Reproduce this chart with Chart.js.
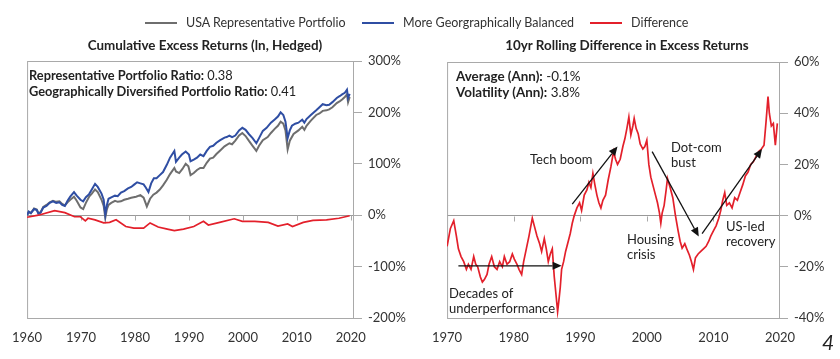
<!DOCTYPE html>
<html>
<head>
<meta charset="utf-8">
<script src="https://cdn.jsdelivr.net/npm/chart.js@4.4.0/dist/chart.umd.min.js"></script>
<style>
    body { margin: 0; background: #fff; font-family: Lato, "Open Sans", sans-serif; color: #222; }
    #wrap { position: relative; width: 840px; height: 359px; overflow: hidden; }
    canvas { position: absolute; top: 0; }
    .lg { position: absolute; top: 15px; font-size: 12.5px; line-height: 16px; white-space: nowrap; color: #333; }
    .lg i { display: inline-block; width: 32px; height: 2px; vertical-align: middle; margin-right: 9px; position: relative; top: -1px; }
    .title { position: absolute; top: 37px; width: 420px; text-align: center; font-weight: bold; font-size: 13.4px; line-height: 16px; }
    .note { position: absolute; font-size: 12.8px; line-height: 16px; white-space: nowrap; }
    .note b { font-weight: bold; }
    .ann { position: absolute; font-size: 13px; line-height: 15px; color: #222; white-space: nowrap; }
    .page { position: absolute; left: 822px; top: 329px; font-size: 21px; font-style: italic; color: #222; }
</style>
</head>
<body>
<div id="wrap">
    <canvas id="cumChart" width="420" height="359" style="left:0;width:420px;height:359px"></canvas>
    <canvas id="rollChart" width="420" height="359" style="left:420px;width:420px;height:359px"></canvas>

    <div class="lg" style="left:145px"><i style="background:#6e6e6e"></i>USA Representative Portfolio</div>
    <div class="lg" style="left:362px"><i style="background:#2f4ea3"></i>More Georgraphically Balanced</div>
    <div class="lg" style="left:590px"><i style="background:#e3202b"></i>Difference</div>

    <div class="title" style="left:-5px">Cumulative Excess Returns (ln, Hedged)</div>
    <div class="title" style="left:417px">10yr Rolling Difference in Excess Returns</div>

    <div class="note" style="left:29px;top:67px"><b>Representative Portfolio Ratio:</b> 0.38<br><b>Geographically Diversified Portfolio Ratio:</b> 0.41</div>
    <div class="note" style="left:456px;top:68px;font-size:13.4px"><b>Average (Ann):</b> -0.1%<br><b>Volatility (Ann):</b> 3.8%</div>

    <div class="ann" style="left:530px;top:152px">Tech boom</div>
    <div class="ann" style="left:671px;top:140px">Dot-com<br>bust</div>
    <div class="ann" style="left:627px;top:232px">Housing<br>crisis</div>
    <div class="ann" style="left:726px;top:219px">US-led<br>recovery</div>
    <div class="ann" style="left:449px;top:286px">Decades of<br>underperformance</div>
    <div class="page">4</div>
</div>

<script>
// left panel: cumulative excess returns, [year, %]
const USA_PORTFOLIO = [
    [1960.0, 0], [1960.3, 6], [1960.7, 4], [1961.3, 13], [1961.8, 11], [1962.1, 4], [1962.5, 6],
    [1963.0, 16], [1963.6, 20], [1964.2, 25], [1964.8, 28], [1965.4, 26], [1966.0, 27], [1966.5, 22],
    [1967.0, 19], [1967.5, 25], [1968.0, 30], [1968.7, 36], [1969.2, 28], [1969.9, 15], [1970.4, 12],
    [1970.9, 24], [1971.5, 36], [1972.0, 42], [1972.6, 50], [1973.1, 45], [1973.8, 30], [1974.2, 18],
    [1974.5, -5], [1974.8, 12], [1975.1, 20], [1975.6, 24], [1976.3, 28], [1976.8, 26], [1977.4, 27],
    [1978.0, 30], [1978.7, 32], [1979.3, 34], [1980.2, 36], [1981.0, 39], [1981.6, 34], [1982.2, 17],
    [1982.8, 32], [1983.4, 40], [1984.0, 44], [1984.6, 50], [1985.2, 58], [1985.9, 69], [1986.5, 80],
    [1987.3, 92], [1987.6, 85], [1988.2, 82], [1988.8, 90], [1989.4, 100], [1989.9, 95], [1990.3, 78],
    [1990.9, 82], [1991.5, 88], [1992.1, 92], [1992.7, 92], [1993.3, 102], [1993.9, 110], [1994.5, 112],
    [1995.1, 119], [1995.8, 126], [1996.6, 134], [1997.5, 140], [1998.0, 138], [1998.6, 145], [1999.3, 155],
    [1999.9, 160], [2000.5, 154], [2001.1, 145], [2001.8, 135], [2002.5, 125], [2003.0, 135], [2003.7, 146],
    [2004.6, 152], [2005.2, 160], [2005.9, 168], [2006.5, 174], [2007.0, 182], [2007.5, 178], [2007.9, 165],
    [2008.3, 128], [2008.7, 145], [2009.4, 158], [2010.3, 165], [2011.0, 172], [2011.4, 166], [2011.8, 174],
    [2012.6, 184], [2013.6, 195], [2014.2, 198], [2014.8, 203], [2015.5, 204], [2016.0, 206], [2016.6, 210],
    [2017.4, 218], [2018.0, 222], [2018.4, 225], [2018.9, 230], [2019.3, 235], [2019.5, 220], [2019.8, 230]
];
const BALANCED_PORTFOLIO = [
    [1960.0, 0], [1960.3, 7], [1960.7, 4], [1961.3, 12], [1961.8, 10], [1962.1, 3], [1962.5, 5],
    [1963.0, 15], [1963.6, 18], [1964.2, 24], [1964.8, 27], [1965.4, 24], [1966.0, 25], [1966.5, 20],
    [1967.0, 18], [1967.5, 28], [1968.0, 36], [1968.7, 45], [1969.2, 38], [1969.9, 30], [1970.4, 27],
    [1970.9, 35], [1971.5, 41], [1972.0, 50], [1972.6, 61], [1973.1, 55], [1973.8, 42], [1974.2, 30],
    [1974.5, 1], [1974.8, 20], [1975.1, 32], [1975.7, 35], [1976.3, 38], [1976.8, 37], [1977.4, 44],
    [1978.0, 47], [1978.7, 52], [1979.3, 55], [1979.9, 60], [1980.4, 64], [1981.0, 62], [1981.6, 60],
    [1982.0, 54], [1982.5, 45], [1983.0, 62], [1983.5, 72], [1984.0, 72], [1984.6, 78], [1985.2, 84],
    [1985.9, 98], [1986.5, 112], [1987.3, 125], [1987.6, 104], [1988.2, 112], [1988.7, 118], [1989.4, 124],
    [1990.0, 118], [1990.3, 105], [1990.9, 108], [1991.5, 112], [1992.1, 118], [1992.7, 115], [1993.3, 125],
    [1993.9, 133], [1994.5, 135], [1995.1, 141], [1995.8, 146], [1996.6, 151], [1997.0, 152], [1997.5, 155],
    [1998.0, 152], [1998.6, 155], [1999.3, 165], [1999.9, 170], [2000.5, 166], [2001.1, 158], [2001.8, 150],
    [2002.5, 140], [2003.0, 150], [2003.7, 164], [2004.4, 170], [2005.2, 180], [2005.9, 186], [2006.5, 192],
    [2007.0, 200], [2007.5, 195], [2007.9, 182], [2008.3, 150], [2008.7, 165], [2009.1, 174], [2009.7, 178],
    [2010.3, 180], [2011.0, 186], [2011.4, 180], [2011.8, 187], [2012.6, 195], [2013.6, 204], [2014.2, 210],
    [2014.8, 216], [2015.5, 214], [2016.0, 215], [2016.6, 220], [2017.4, 228], [2018.0, 232], [2018.4, 235],
    [2018.9, 238], [2019.3, 244], [2019.5, 228], [2019.8, 236]
];
const CUM_DIFFERENCE = [
    [1960.0, -4], [1962.1, 0], [1965.1, 9], [1967.0, 5], [1968.8, -3], [1969.9, -3], [1970.8, -11],
    [1971.3, -6], [1972.6, -9], [1974.2, -15], [1975.3, -14], [1976.5, -9], [1978.3, -22], [1979.8, -25],
    [1981.6, -25], [1982.8, -15], [1984.3, -23], [1986.0, -27], [1987.3, -30], [1989.0, -27], [1990.9, -22],
    [1992.7, -12], [1993.6, -19], [1995.7, -14], [1998.4, -7], [1999.9, -12], [2002.2, -12], [2004.7, -14],
    [2006.5, -21], [2008.3, -17], [2009.2, -22], [2011.2, -14], [2013.0, -10], [2015.5, -9], [2017.8, -6],
    [2019.8, -1]
];
const CUM_YEARS = [1960, 1970, 1980, 1990, 2000, 2010, 2020];
const CUM_PCT_TICKS = [-200, -100, 0, 100, 200, 300];

// right panel: 10yr rolling difference, [year, %]
const ROLLING_DIFF = [
    [1970.0, -12], [1970.5, -5], [1971.0, -2], [1971.4, -8], [1971.7, -13], [1972.1, -16], [1972.5, -18],
    [1972.9, -21], [1973.2, -19], [1973.6, -21], [1974.0, -16], [1974.3, -19], [1974.6, -20], [1975.0, -24],
    [1975.3, -26], [1975.6, -25], [1976.0, -23], [1976.3, -19], [1976.7, -16], [1977.1, -20], [1977.5, -21],
    [1977.9, -18], [1978.3, -20], [1978.6, -16], [1979.0, -19], [1979.4, -18], [1979.8, -15], [1980.1, -17],
    [1980.5, -19], [1980.8, -21], [1981.2, -23], [1981.5, -18], [1981.9, -13], [1982.3, -8], [1982.8, -1],
    [1983.1, -4], [1983.5, -8], [1983.9, -11], [1984.2, -14], [1984.6, -9], [1984.9, -13], [1985.2, -18],
    [1985.5, -15], [1985.8, -13], [1986.1, -24], [1986.4, -32], [1986.6, -37.5], [1986.8, -33], [1987.0, -28],
    [1987.2, -21], [1987.5, -18], [1987.8, -14], [1988.2, -10], [1988.5, -7], [1988.8, -3], [1989.1, 0],
    [1989.5, 3], [1989.9, 5], [1990.2, 2], [1990.6, 8], [1991.0, 10], [1991.3, 13], [1991.6, 11],
    [1991.9, 16.5], [1992.2, 12], [1992.5, 8], [1992.8, 5], [1993.1, 3], [1993.4, 6], [1993.8, 8],
    [1994.2, 14], [1994.6, 19], [1995.0, 25], [1995.3, 22], [1995.6, 20], [1996.0, 22], [1996.4, 27],
    [1996.7, 30], [1997.0, 34], [1997.3, 38.5], [1997.6, 31.5], [1997.9, 35], [1998.1, 38], [1998.4, 34],
    [1998.7, 32], [1999.0, 28], [1999.4, 26], [1999.7, 27], [2000.0, 29.5], [2000.3, 20], [2000.6, 15],
    [2000.9, 12], [2001.3, 8], [2001.6, 5], [2001.9, 1], [2002.1, -3], [2002.3, 1], [2002.6, 4],
    [2002.9, 10], [2003.1, 14.5], [2003.5, 11], [2003.9, 7], [2004.3, 0], [2004.7, -6], [2005.0, -10],
    [2005.3, -12.7], [2005.7, -11], [2006.0, -13], [2006.4, -15.5], [2006.7, -18], [2007.0, -21], [2007.3, -16.5],
    [2007.7, -15], [2008.1, -14], [2008.5, -13], [2008.9, -12], [2009.3, -10], [2009.6, -8], [2010.0, -6],
    [2010.4, -4], [2010.8, -1], [2011.1, 2], [2011.4, 6], [2011.7, 9], [2012.0, 4], [2012.4, 5],
    [2012.8, 3], [2013.2, 7], [2013.6, 6], [2014.0, 9], [2014.4, 12], [2014.8, 15.5], [2015.2, 17],
    [2015.6, 20], [2016.0, 21], [2016.4, 23], [2016.8, 25], [2017.2, 26], [2017.6, 27.5], [2017.9, 36.5],
    [2018.2, 46.5], [2018.4, 40], [2018.7, 35], [2019.0, 36], [2019.3, 27.5], [2019.6, 36]
];
const ROLL_YEARS = [1970, 1980, 1990, 2000, 2010, 2020];
const ROLL_PCT_TICKS = [-40, -20, 0, 20, 40, 60];
// arrows: [fromYear, fromPct, toYear, toPct]
const ROLL_ARROWS = [
    [1971.7, -19.6, 1987.2, -19.6],
    [1988.8, 4.5, 1995.6, 27],
    [2000.8, 25, 2007.8, -8.2],
    [2008.3, -7, 2017.3, 26]
];

const FRAME = '#a9a9a9';
const TICK_FONT = { family: 'Lato, "Open Sans", sans-serif', size: 13 };

const toXY = arr => arr.map(([x, y]) => ({ x, y }));

// frame around plot + small marks on the zero line
const framePlugin = {
    id: 'frame',
    beforeDatasetsDraw(chart) {
        const { ctx, chartArea: a, scales } = chart;
        ctx.save();
        ctx.strokeStyle = FRAME;
        ctx.lineWidth = 1;
        ctx.strokeRect(a.left + 0.5, a.top + 0.5, a.right - a.left - 1, a.bottom - a.top);
        const y0 = Math.round(scales.y.getPixelForValue(0)) + 0.5;
        ctx.beginPath();
        scales.x.ticks.forEach(t => {
            const px = Math.round(scales.x.getPixelForValue(t.value)) + 0.5;
            if (px <= a.left + 1 || px >= a.right - 1) return;
            ctx.moveTo(px, y0);
            ctx.lineTo(px, y0 + 5);
        });
        ctx.stroke();
        ctx.restore();
    }
};

const arrowPlugin = {
    id: 'arrows',
    afterDatasetsDraw(chart, args, opts) {
        if (!opts.list) return;
        const { ctx, scales } = chart;
        ctx.save();
        ctx.strokeStyle = '#111';
        ctx.fillStyle = '#111';
        ctx.lineWidth = 1.3;
        opts.list.forEach(([x1, y1, x2, y2]) => {
            const ax = scales.x.getPixelForValue(x1), ay = scales.y.getPixelForValue(y1);
            const bx = scales.x.getPixelForValue(x2), by = scales.y.getPixelForValue(y2);
            const ang = Math.atan2(by - ay, bx - ax);
            const len = 9, half = 4;
            const cx = bx - len * Math.cos(ang), cy = by - len * Math.sin(ang);
            ctx.beginPath();
            ctx.moveTo(ax, ay);
            ctx.lineTo(cx, cy);
            ctx.stroke();
            ctx.beginPath();
            ctx.moveTo(bx, by);
            ctx.lineTo(cx + half * Math.sin(ang), cy - half * Math.cos(ang));
            ctx.lineTo(cx - half * Math.sin(ang), cy + half * Math.cos(ang));
            ctx.closePath();
            ctx.fill();
        });
        ctx.restore();
    }
};

function lineSet(data, color, width) {
    return {
        data: toXY(data),
        borderColor: color,
        backgroundColor: color,
        borderWidth: width,
        pointRadius: 0,
        tension: 0,
    };
}

function makeOptions(cfg) {
    return {
        responsive: false,
        animation: false,
        events: [],
        layout: { padding: cfg.padding },
        plugins: {
            legend: { display: false },
            title: { display: false },
            tooltip: { enabled: false },
            arrows: { list: cfg.arrows },
        },
        scales: {
            x: {
                type: 'linear',
                min: cfg.xMin, max: cfg.xMax,
                afterBuildTicks: s => { s.ticks = cfg.xTicks.map(v => ({ value: v })); },
                afterFit: s => { s.height = 41; },
                grid: { display: false, drawTicks: false },
                border: { display: false },
                ticks: { font: TICK_FONT, color: '#333', padding: 12, maxRotation: 0, callback: v => String(v) },
            },
            y: {
                position: 'right',
                min: cfg.yMin, max: cfg.yMax,
                afterBuildTicks: s => { s.ticks = cfg.yTicks.map(v => ({ value: v })); },
                afterFit: s => { s.width = cfg.yWidth; },
                grid: {
                    drawOnChartArea: true,
                    color: c => (c.tick && c.tick.value === 0) ? '#999' : 'rgba(0,0,0,0)',
                    tickColor: FRAME,
                    tickLength: 8,
                },
                border: { display: false },
                ticks: { font: TICK_FONT, color: '#333', padding: 6, callback: v => v + '%' },
            }
        }
    };
}

new Chart(document.getElementById('cumChart'), {
    type: 'line',
    data: {
        datasets: [
            lineSet(CUM_DIFFERENCE, '#e3202b', 1.7),
            lineSet(BALANCED_PORTFOLIO, '#2f4ea3', 2),
            lineSet(USA_PORTFOLIO, '#6e6e6e', 2),
        ]
    },
    options: makeOptions({
        padding: { top: 61, left: 19, right: 10, bottom: 0 },
        xMin: 1960, xMax: 2020.6, xTicks: CUM_YEARS,
        yMin: -200, yMax: 300, yTicks: CUM_PCT_TICKS, yWidth: 56,
    }),
    plugins: [framePlugin, arrowPlugin]
});

new Chart(document.getElementById('rollChart'), {
    type: 'line',
    data: { datasets: [lineSet(ROLLING_DIFF, '#e3202b', 1.7)] },
    options: makeOptions({
        padding: { top: 62, left: 25, right: 10, bottom: 0 },
        xMin: 1970, xMax: 2020, xTicks: ROLL_YEARS,
        yMin: -40, yMax: 60, yTicks: ROLL_PCT_TICKS, yWidth: 50,
        arrows: ROLL_ARROWS,
    }),
    plugins: [framePlugin, arrowPlugin]
});
</script>
</body>
</html>
